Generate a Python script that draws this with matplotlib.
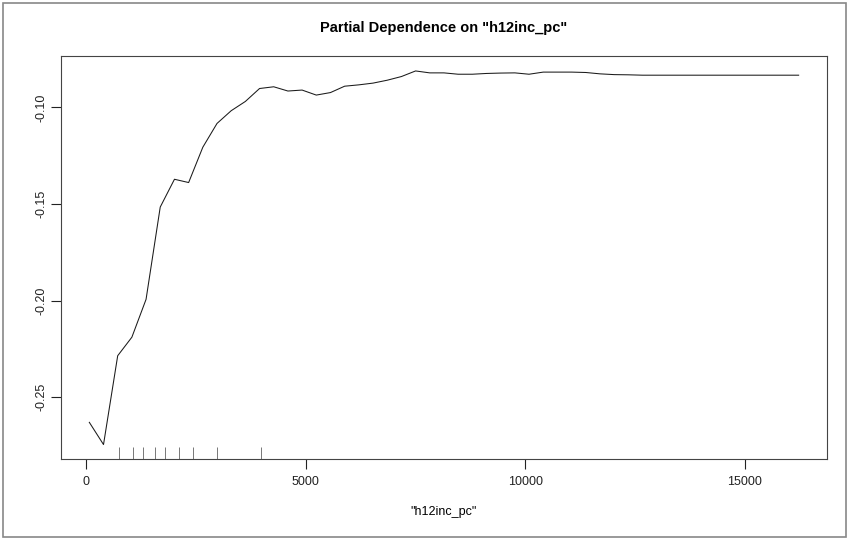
import matplotlib
matplotlib.use("Agg")
import matplotlib.pyplot as plt
from matplotlib.patches import Rectangle

plt.rcParams["font.family"] = ["Liberation Sans", "DejaVu Sans"]

# partial dependence grid (51 points) and averaged prediction
h12inc_pc = [72, 395, 718, 1041, 1364, 1687, 2011, 2334, 2657, 2980,
             3303, 3626, 3949, 4272, 4595, 4918, 5241, 5564, 5887, 6211,
             6534, 6857, 7180, 7503, 7826, 8149, 8472, 8795, 9118, 9441,
             9764, 10087, 10411, 10734, 11057, 11380, 11703, 12026, 12349, 12672,
             12995, 13318, 13641, 13964, 14287, 14611, 14934, 15257, 15580, 15903,
             16228]
partial_dep = [-0.2631, -0.2746, -0.2286, -0.2190, -0.1994, -0.1516, -0.1372, -0.1389, -0.1206, -0.1083,
               -0.1017, -0.0969, -0.0902, -0.0893, -0.0915, -0.0910, -0.0936, -0.0923, -0.0890, -0.0883,
               -0.0874, -0.0859, -0.0840, -0.0811, -0.0821, -0.0821, -0.0828, -0.0828, -0.0824, -0.0822,
               -0.0821, -0.0828, -0.0817, -0.0817, -0.0817, -0.0819, -0.0826, -0.0830, -0.0831, -0.0833,
               -0.0833, -0.0833, -0.0833, -0.0833, -0.0833, -0.0833, -0.0833, -0.0833, -0.0833, -0.0833,
               -0.0833]
# deciles of the predictor, shown as a rug
rug_deciles = [738, 1057, 1299, 1573, 1801, 2104, 2439, 2986, 3980]

x_ticks = [0, 5000, 10000, 15000]
y_ticks = [-0.25, -0.20, -0.15, -0.10]

fig = plt.figure(figsize=(8.49, 5.39), dpi=100)
ax = fig.add_axes([0.0718, 0.1475, 0.9023, 0.7486])

ax.plot(h12inc_pc, partial_dep, color="#1a1a1a", lw=0.75)

# R-style axis limits (4% padding on each side)
xr = max(h12inc_pc) - min(h12inc_pc)
yr = max(partial_dep) - min(partial_dep)
ax.set_xlim(min(h12inc_pc) - 0.04 * xr, max(h12inc_pc) + 0.04 * xr)
ax.set_ylim(min(partial_dep) - 0.04 * yr, max(partial_dep) + 0.04 * yr)

ylo = ax.get_ylim()[0]
ax.vlines(rug_deciles, ylo, ylo + 0.03 * (ax.get_ylim()[1] - ylo),
          color="#777777", lw=0.7)

ax.set_xticks(x_ticks)
ax.set_xticklabels([str(v) for v in x_ticks])
ax.set_yticks(y_ticks)
ax.set_yticklabels(["%.2f" % v for v in y_ticks], rotation=90, va="center")
ax.tick_params(direction="out", length=7, width=0.8, labelsize=9, colors="#222222")
ax.tick_params(axis="y", pad=3)
ax.tick_params(axis="x", pad=5)
for sp in ax.spines.values():
    sp.set_linewidth(0.8)
    sp.set_color("#444444")

ax.set_xlabel('"h12inc_pc"', fontsize=9, labelpad=13)
ax.set_title('Partial Dependence on "h12inc_pc"', fontsize=10.5,
             fontweight="bold", pad=17)

# outer frame around the device
fig.patches.append(Rectangle((3 / 849, 2 / 539), 843 / 849, 534 / 539,
                             transform=fig.transFigure, fill=False,
                             edgecolor="#888888", lw=1.2))

fig.savefig("out.png", dpi=100)
